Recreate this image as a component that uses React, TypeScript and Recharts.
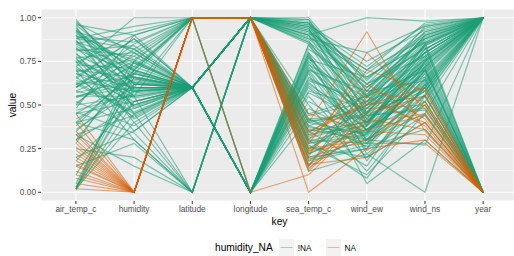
import { LineChart, Line, XAxis, YAxis, CartesianGrid, ReferenceLine } from "recharts";

const keys = ["air_temp_c", "humidity", "latitude", "longitude", "sea_temp_c", "wind_ew", "wind_ns", "year"];
const yTicks = [0, 0.25, 0.5, 0.75, 1];
const minorTicks = [0.125, 0.375, 0.625, 0.875];

// humidity present (!NA), one value per key, grouped by latitude
const notNaLat06: number[][] = [
  [0.92, 0.62, 0.6, 1, 0.95, 0.55, 0.85, 1],
  [0.85, 0.7, 0.6, 1, 0.9, 0.4, 0.75, 1],
  [0.78, 0.55, 0.6, 1, 0.88, 0.62, 0.92, 1],
  [0.7, 0.66, 0.6, 0, 0.72, 0.35, 0.6, 0],
  [0.95, 0.48, 0.6, 1, 0.3, 0.28, 0.7, 1],
  [0.6, 0.75, 0.6, 1, 0.25, 0.45, 0.82, 1],
  [0.55, 0.6, 0.6, 0, 0.65, 0.5, 0.55, 0],
  [0.88, 0.82, 0.6, 1, 0.4, 0.33, 0.65, 1],
  [0.45, 0.52, 0.6, 1, 0.92, 0.7, 0.88, 1],
  [0.4, 0.68, 0.6, 0, 0.8, 0.22, 0.5, 0],
  [0.02, 0.58, 0.6, 1, 0.35, 0.4, 0.78, 1],
  [0.03, 0.45, 0.6, 0, 0.6, 0.3, 0.45, 0],
  [0.8, 0.4, 0.6, 1, 0.97, 0.58, 0.95, 1],
  [0.65, 0.88, 0.6, 1, 0.2, 0.25, 0.6, 1],
  [0.35, 0.62, 0.6, 0, 0.75, 0.42, 0.68, 0],
  [0.75, 0.35, 0.6, 1, 0.45, 0.55, 0.8, 1],
  [0.9, 0.72, 0.6, 0, 0.55, 0.2, 0.4, 0],
  [0.5, 0.8, 0.6, 1, 0.86, 0.48, 0.72, 1],
  [0.3, 0.5, 0.6, 1, 0.28, 0.36, 0.58, 1],
  [0.98, 0.65, 0.6, 1, 0.93, 0.65, 0.9, 1],
  [0.2, 0.35, 0.6, 0, 0.68, 0.05, 0.3, 0],
  [0.72, 0.5, 0.6, 0, 0.82, 0.6, 0.83, 0],
  [0.45, 0.65, 0.6, 0, 0.48, 0.32, 0.65, 0],
  [0.87, 0.58, 0.6, 1, 0.12, 0.22, 0.0, 1],
  [0.1, 0.62, 0.6, 1, 0.96, 0.75, 0.93, 1],
  [0.77, 0.42, 0.6, 0, 0.58, 0.48, 0.76, 0],
  [0.38, 0.7, 0.6, 1, 0.27, 0.1, 0.45, 1],
  [0.66, 0.88, 0.6, 0, 0.85, 0.55, 0.7, 0],
  [0.52, 0.38, 0.6, 1, 0.88, 0.8, 0.95, 1],
  [0.83, 0.55, 0.6, 0, 0.42, 0.26, 0.36, 0],
  [0.28, 0.75, 0.6, 1, 0.32, 0.46, 0.58, 1],
  [0.9, 0.45, 0.6, 0, 0.76, 0.66, 0.86, 0],
  [0.18, 0.52, 0.6, 0, 0.7, 0.58, 0.64, 0],
  [0.62, 0.78, 0.6, 1, 1.0, 0.62, 0.78, 1],
  [0.94, 0.62, 0.6, 0, 0.8, 0.44, 0.48, 0],
  [0.36, 0.58, 0.6, 1, 0.16, 0.34, 0.74, 1],
  [0.84, 0.66, 0.6, 1, 0.97, 0.5, 0.9, 1],
  [0.76, 0.6, 0.6, 1, 0.94, 0.42, 0.84, 1],
  [0.68, 0.52, 0.6, 0, 0.78, 0.38, 0.62, 0],
  [0.91, 0.74, 0.6, 1, 0.36, 0.3, 0.72, 1],
  [0.57, 0.64, 0.6, 0, 0.66, 0.46, 0.74, 0],
  [0.63, 0.46, 0.6, 1, 0.22, 0.36, 0.63, 1],
  [0.81, 0.84, 0.6, 1, 0.9, 0.6, 0.87, 1],
  [0.47, 0.56, 0.6, 0, 0.74, 0.28, 0.52, 0],
  [0.02, 0.66, 0.6, 1, 0.44, 0.52, 0.76, 1],
  [0.01, 0.52, 0.6, 0, 0.63, 0.36, 0.58, 0],
  [0.74, 0.9, 0.6, 1, 0.31, 0.41, 0.69, 1],
  [0.66, 0.43, 0.6, 0, 0.52, 0.34, 0.7, 0],
  [0.93, 0.57, 0.6, 1, 0.26, 0.2, 0.56, 1],
  [0.54, 0.68, 0.6, 1, 0.89, 0.68, 0.91, 1],
  [0.42, 0.6, 0.6, 0, 0.84, 0.5, 0.78, 0],
  [0.79, 0.63, 0.6, 1, 0.4, 0.48, 0.84, 1],
  [0.71, 0.54, 0.6, 0, 0.69, 0.24, 0.44, 0],
  [0.6, 0.82, 0.6, 1, 0.95, 0.72, 0.96, 1],
  [0.33, 0.44, 0.6, 1, 0.19, 0.27, 0.6, 1],
  [0.96, 0.69, 0.6, 0, 0.73, 0.54, 0.8, 0],
  [0.51, 0.74, 0.6, 1, 0.34, 0.56, 0.88, 1],
  [0.87, 0.49, 0.6, 1, 0.92, 0.46, 0.8, 1],
  [0.64, 0.58, 0.6, 0, 0.57, 0.4, 0.66, 0],
  [0.77, 0.8, 0.6, 1, 0.23, 0.5, 0.73, 1],
  [0.99, 0.6, 0.6, 1, 0.99, 0.58, 0.89, 1],
  [0.58, 0.5, 0.6, 0, 0.79, 0.3, 0.56, 0],
  [0.02, 0.6, 0.6, 0, 0.71, 0.44, 0.6, 0],
  [0.4, 0.48, 0.6, 1, 0.86, 0.62, 0.82, 1],
  [0.82, 0.68, 0.6, 0, 0.64, 0.52, 0.84, 0],
  [0.69, 0.76, 0.6, 1, 0.29, 0.39, 0.77, 1],
  [0.55, 0.63, 0.6, 1, 0.41, 0.43, 0.61, 1],
  [0.75, 0.59, 0.6, 0, 0.61, 0.36, 0.52, 0],
  [0.62, 0.66, 0.6, 1, 0.97, 0.66, 0.86, 1],
  [0.3, 0.7, 0.6, 0, 0.77, 0.45, 0.71, 0],
];

const notNaLat1: number[][] = [
  [0.96, 0.9, 1, 1, 0.99, 0.45, 0.85, 1],
  [0.88, 0.95, 1, 1, 0.33, 0.38, 0.75, 1],
  [0.72, 1.0, 1, 1, 0.9, 1.0, 0.98, 1],
  [0.82, 0.78, 1, 0, 0.7, 0.3, 0.55, 0],
  [0.6, 0.85, 1, 1, 0.24, 0.52, 0.66, 1],
  [0.93, 0.7, 1, 1, 0.85, 0.35, 0.8, 1],
  [0.02, 0.75, 1, 1, 0.38, 0.28, 0.7, 0],
  [0.68, 0.6, 1, 1, 0.15, 0.6, 0.88, 1],
  [0.85, 0.92, 1, 0, 0.78, 0.18, 0.62, 0],
  [0.5, 0.55, 1, 1, 0.42, 0.44, 0.47, 0],
  [0.58, 0.72, 1, 0, 0.62, 0.4, 0.72, 0],
  [0.97, 0.8, 1, 1, 0.91, 0.7, 0.97, 1],
  [0.05, 0.68, 1, 1, 0.94, 0.38, 0.82, 1],
  [0.48, 0.9, 1, 1, 0.2, 0.3, 0.68, 1],
  [0.03, 0.7, 1, 1, 0.96, 0.56, 0.86, 1],
  [0.86, 0.76, 1, 1, 0.98, 0.64, 0.94, 1],
  [0.89, 0.86, 1, 1, 0.87, 0.4, 0.76, 1],
  [0.73, 0.71, 1, 1, 0.37, 0.34, 0.64, 1],
  [0.92, 0.82, 1, 1, 0.93, 0.54, 0.92, 1],
];

const notNaLat0: number[][] = [
  [0.4, 0.3, 0, 1, 0.18, 0.25, 0.75, 1],
  [0.62, 0.45, 0, 1, 0.35, 0.15, 0.62, 1],
  [0.25, 0.2, 0, 1, 0.22, 0.38, 0.85, 1],
  [0.55, 0.55, 0, 1, 0.95, 0.52, 0.9, 1],
  [0.02, 0.4, 0, 1, 0.3, 0.08, 0.55, 1],
  [0.33, 0.15, 0, 1, 0.42, 0.3, 0.27, 1],
  [0.15, 0.28, 0, 1, 0.5, 0.12, 0.52, 1],
  [0.7, 0.3, 0, 1, 0.38, 0.5, 0.8, 1],
  [0.46, 0.34, 0, 1, 0.28, 0.33, 0.71, 1],
];

// humidity missing (NA)
const naRows: number[][] = [
  [0.3, 0, 1, 1, 0.18, 0.4, 0.45, 0],
  [0.22, 0, 1, 1, 0.15, 0.55, 0.38, 0],
  [0.12, 0, 1, 1, 0.25, 0.3, 0.5, 0],
  [0.4, 0, 1, 1, 0.4, 0.92, 0.35, 0],
  [0.18, 0, 1, 1, 0.12, 0.45, 0.55, 0],
  [0.05, 0, 1, 1, 0.3, 0.62, 0.42, 0],
  [0.26, 0, 1, 1, 0.0, 0.25, 0.3, 0],
  [0.35, 0, 1, 1, 0.35, 0.5, 0.6, 0],
  [0.15, 0, 1, 1, 0.2, 0.8, 0.48, 0],
  [0.45, 0, 1, 1, 0.45, 0.35, 0.33, 0],
  [0.08, 0, 1, 1, 0.22, 0.58, 0.52, 0],
  [0.28, 0, 1, 1, 0.16, 0.2, 0.4, 0],
  [0.2, 0, 1, 0, 0.1, 0.42, 0.36, 0],
  [0.02, 0, 1, 1, 0.28, 0.7, 0.58, 0],
  [0.1, 0, 1, 1, 0.14, 0.36, 0.44, 0],
  [0.24, 0, 1, 1, 0.13, 0.48, 0.5, 0],
  [0.33, 0, 1, 1, 0.24, 0.28, 0.28, 0],
  [0.16, 0, 1, 1, 0.33, 0.52, 0.4, 0],
];

const GREEN = "#1B9E77";
const ORANGE = "#D95F02";

const greenRows = [...notNaLat06, ...notNaLat1, ...notNaLat0];

const data = keys.map((k, i) => {
  const row: Record<string, number | string> = { idx: i, key: k };
  greenRows.forEach((r, j) => (row[`g${j}`] = r[i]));
  naRows.forEach((r, j) => (row[`o${j}`] = r[i]));
  return row;
});

const tickStyle = { fontSize: 8.3, fill: "#4D4D4D" };

function YTitle(props: any) {
  const vb = props.viewBox || { x: 0, y: 9, height: 191 };
  const x = vb.x + 12;
  const y = vb.y + vb.height / 2;
  return (
    <text x={x} y={y} transform={`rotate(-90 ${x} ${y})`} textAnchor="middle" dominantBaseline="central" fontSize={10.3} fill="#000">
      value
    </text>
  );
}

function XTitle(props: any) {
  const vb = props.viewBox || { x: 41, y: 201, width: 473 };
  return (
    <text x={279.5} y={vb.y + 20} textAnchor="middle" dominantBaseline="central" fontSize={10.3} fill="#000">
      key
    </text>
  );
}

function LegendKey({ color }: { color: string }) {
  return (
    <svg width={15} height={17} style={{ display: "block" }}>
      <rect x={0} y={0} width={15} height={17} fill="#F2F2F2" />
      <line x1={1.5} x2={13.5} y1={8.5} y2={8.5} stroke={color} strokeOpacity={0.4} strokeWidth={1} />
    </svg>
  );
}

export default function App() {
  return (
    <div style={{ position: "absolute", left: 0, top: 0, width: 514, height: 256, background: "#fff", fontFamily: "'Liberation Sans', Arial, sans-serif" }}>
      <LineChart width={514} height={256} data={data} margin={{ top: 9, right: 0, bottom: 25, left: 0 }}>
        <CartesianGrid fill="#EBEBEB" stroke="#FFFFFF" strokeWidth={1.1} />
        {minorTicks.map((v) => (
          <ReferenceLine key={v} y={v} stroke="#FFFFFF" strokeWidth={0.55} />
        ))}
        <XAxis
          dataKey="idx"
          type="number"
          domain={[-0.6, 7.53]}
          ticks={[0, 1, 2, 3, 4, 5, 6, 7]}
          interval={0}
          allowDataOverflow
          tickFormatter={(i: number) => keys[i]}
          tick={tickStyle}
          tickLine={{ stroke: "#333333" }}
          tickSize={3}
          tickMargin={2.5}
          axisLine={false}
          height={30}
          label={<XTitle />}
        />
        <YAxis
          type="number"
          domain={[-0.05, 1.05]}
          ticks={yTicks}
          interval={0}
          allowDataOverflow
          tickFormatter={(v: number) => v.toFixed(2)}
          tick={tickStyle}
          tickLine={{ stroke: "#333333" }}
          tickSize={3}
          tickMargin={2}
          axisLine={false}
          width={41}
          label={<YTitle />}
        />
        {greenRows.map((_, j) => (
          <Line
            key={`g${j}`}
            dataKey={`g${j}`}
            type="linear"
            stroke={GREEN}
            strokeOpacity={0.55}
            strokeWidth={1.2}
            dot={false}
            activeDot={false}
            isAnimationActive={false}
          />
        ))}
        {naRows.map((_, j) => (
          <Line
            key={`o${j}`}
            dataKey={`o${j}`}
            type="linear"
            stroke={ORANGE}
            strokeOpacity={0.55}
            strokeWidth={1.1}
            dot={false}
            activeDot={false}
            isAnimationActive={false}
          />
        ))}
      </LineChart>
      <div style={{ position: "absolute", left: 215, top: 239, height: 17, display: "flex", alignItems: "center", fontSize: 10.2, color: "#000" }}>
        <span style={{ marginRight: 6 }}>humidity_NA</span>
        <LegendKey color={GREEN} />
        <span style={{ fontSize: 8.3, color: "#000", marginLeft: 4, marginRight: 14 }}>!NA</span>
        <LegendKey color={ORANGE} />
        <span style={{ fontSize: 8.3, color: "#000", marginLeft: 4 }}>NA</span>
      </div>
    </div>
  );
}
